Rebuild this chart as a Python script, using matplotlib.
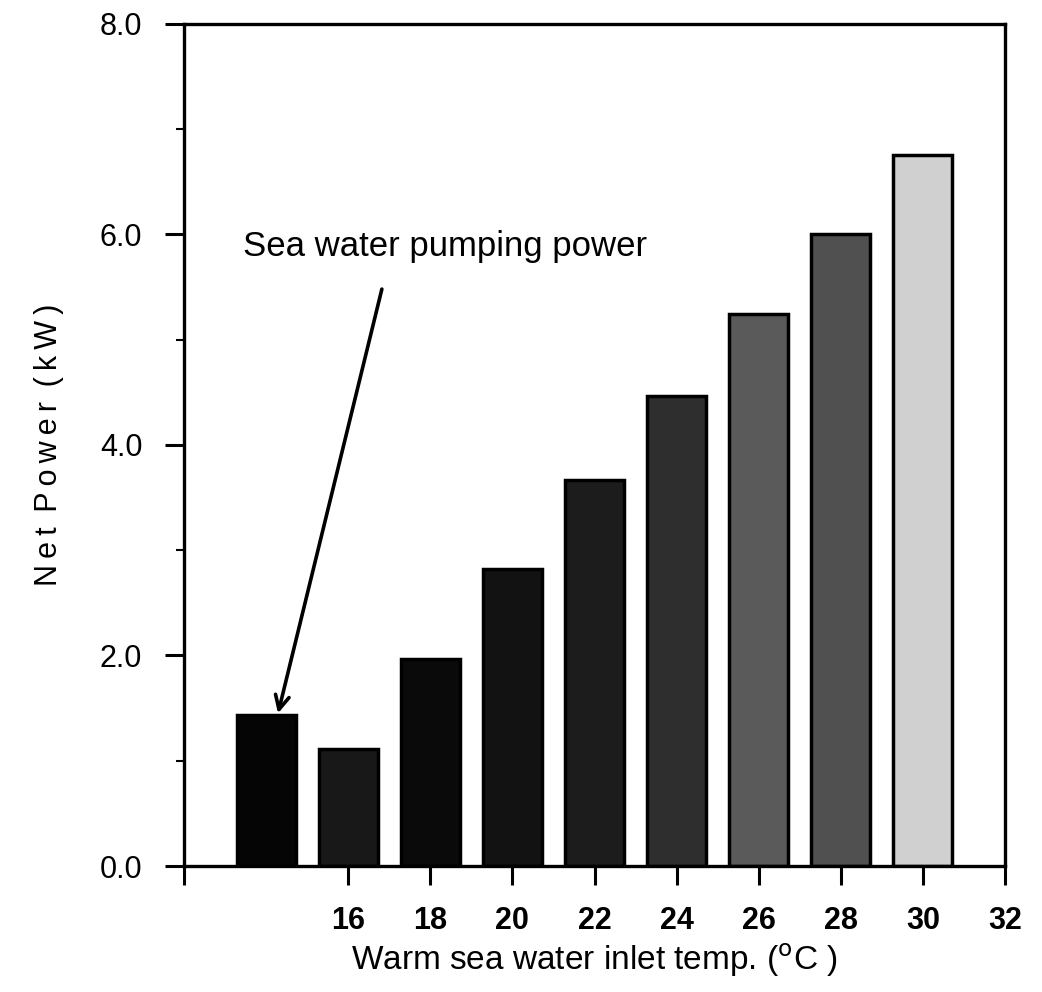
import matplotlib.pyplot as plt
from matplotlib.ticker import MultipleLocator

# data
temps = [14, 16, 18, 20, 22, 24, 26, 28, 30]
net_power = [1.43, 1.11, 1.97, 2.82, 3.67, 4.46, 5.24, 6.00, 6.75]
x_ticks = [12, 16, 18, 20, 22, 24, 26, 28, 30, 32]
x_tick_labels = ['', '16', '18', '20', '22', '24', '26', '28', '30', '32']
y_ticks = [0, 2, 4, 6, 8]
y_tick_labels = ['0.0', '2.0', '4.0', '6.0', '8.0']

# speckled fills approximated by flat greys
bar_colors = ['#050505', '#181818', '#0a0a0a', '#121212', '#1c1c1c',
              '#2e2e2e', '#5a5a5a', '#505050', '#d0d0d0']

plt.rcParams['font.family'] = ['Liberation Sans', 'DejaVu Sans']

fig = plt.figure(figsize=(10.42, 9.92), dpi=100)
ax = fig.add_axes([0.1766, 0.127, 0.7879, 0.849])

ax.bar(temps, net_power, width=1.44, color=bar_colors, edgecolor='black',
       linewidth=2.5, zorder=2)

ax.set_xlim(12, 32)
ax.set_ylim(0, 8)
ax.set_xticks(x_ticks)
ax.set_xticklabels(x_tick_labels, fontsize=22, fontweight='bold')
ax.set_yticks(y_ticks)
ax.set_yticklabels(y_tick_labels, fontsize=22)
ax.yaxis.set_minor_locator(MultipleLocator(1))

ax.tick_params(axis='both', which='major', direction='out', length=14,
               width=2.2)
ax.tick_params(axis='x', which='major', pad=15)
ax.tick_params(axis='y', which='major', pad=16)
ax.tick_params(axis='y', which='minor', direction='out', length=6, width=1.5)
ax.tick_params(right=False, top=False)

for s in ax.spines.values():
    s.set_linewidth(2.4)

ax.set_xlabel('Warm sea water inlet temp. ($^{\\mathrm{o}}$C )', fontsize=24,
              labelpad=4)
ts = '\u2009'
gap = ' ' + ts
ax.set_ylabel(ts.join('Net') + gap + ts.join('Power') + gap + ts.join('(kW)'),
              fontsize=22, labelpad=26)

ax.text(18.36, 5.88, 'Sea water pumping power', fontsize=25,
        ha='center', va='center')
ax.annotate('', xy=(14.29, 1.45), xytext=(16.82, 5.48),
            arrowprops=dict(arrowstyle='->', lw=2.6, color='black',
                            mutation_scale=25, shrinkA=0, shrinkB=0))

fig.savefig('out.png', dpi=100)
